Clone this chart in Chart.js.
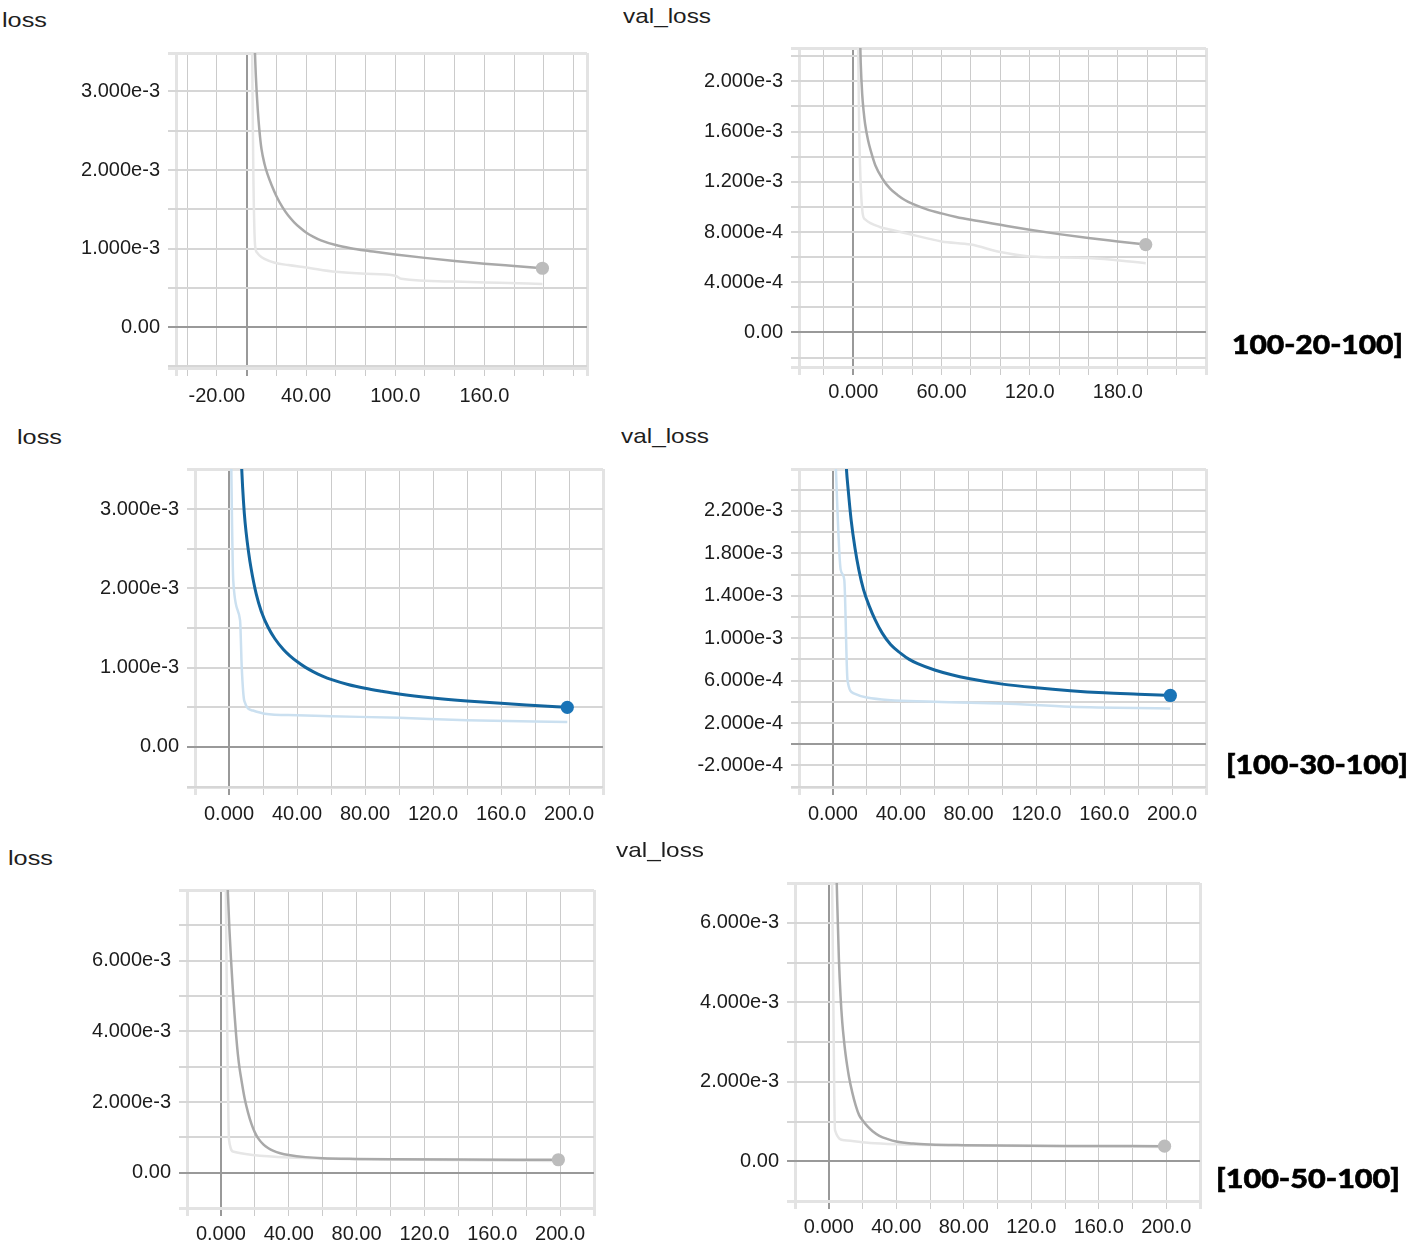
<!DOCTYPE html>
<html><head><meta charset="utf-8">
<script src="https://cdn.jsdelivr.net/npm/chart.js@4.4.1/dist/chart.umd.min.js"></script>
<style>
body{margin:0;background:#fff;}
#root{position:relative;width:1414px;height:1251px;overflow:hidden;background:#fff;}
canvas{position:absolute;}
.title{position:absolute;font-family:"Liberation Sans",Arial,sans-serif;font-size:21px;color:#1e1e1e;transform-origin:0 0;line-height:1;white-space:nowrap;}
.tag{position:absolute;font-family:Lato,"Open Sans",sans-serif;font-weight:900;font-size:27px;color:#000;transform-origin:0 0;line-height:1;white-space:nowrap;-webkit-text-stroke:0.6px #000;}
</style></head><body><div id="root"></div>
<script>
// ---------------- DATA ----------------
// Panel 1: loss [100-20-100]
const p1Epochs    = [4, 5, 6, 7, 8, 9, 10, 12, 14, 17, 20, 24, 28, 32, 36, 40, 45, 50, 60, 70, 80, 90, 100, 120, 140, 160, 180, 199];
const p1Loss      = [5.0e-3, 3.9e-3, 3.3e-3, 2.92e-3, 2.64e-3, 2.43e-3, 2.27e-3, 2.08e-3, 1.95e-3, 1.80e-3, 1.67e-3, 1.53e-3, 1.42e-3, 1.335e-3, 1.265e-3, 1.205e-3, 1.15e-3, 1.105e-3, 1.045e-3, 1.005e-3, 0.975e-3, 0.95e-3, 0.926e-3, 0.882e-3, 0.843e-3, 0.808e-3, 0.778e-3, 0.75e-3];
const p1RawEpochs = [3, 4.5, 5.7, 7, 8.8, 12, 19, 28, 40, 60, 80, 100, 104, 140, 170, 199];
const p1RawLoss   = [5.0e-3, 2.0e-3, 1.04e-3, 0.95e-3, 0.91e-3, 0.87e-3, 0.82e-3, 0.79e-3, 0.76e-3, 0.705e-3, 0.68e-3, 0.655e-3, 0.615e-3, 0.58e-3, 0.565e-3, 0.55e-3];
// Panel 2: val_loss [100-20-100]
const p2Epochs    = [3, 4, 5, 6, 7, 8, 10, 12, 15, 20, 25, 30, 35, 40, 50, 60, 70, 80, 100, 120, 140, 160, 180, 199];
const p2Loss      = [3.3e-3, 2.6e-3, 2.15e-3, 1.9e-3, 1.76e-3, 1.66e-3, 1.53e-3, 1.44e-3, 1.33e-3, 1.22e-3, 1.145e-3, 1.095e-3, 1.055e-3, 1.025e-3, 0.98e-3, 0.948e-3, 0.92e-3, 0.897e-3, 0.857e-3, 0.818e-3, 0.783e-3, 0.752e-3, 0.725e-3, 0.70e-3];
const p2RawEpochs = [2, 4, 6.3, 8, 11.6, 18, 25.6, 40, 60, 80, 100, 120, 160, 199];
const p2RawLoss   = [3.5e-3, 1.6e-3, 0.95e-3, 0.90e-3, 0.87e-3, 0.84e-3, 0.818e-3, 0.778e-3, 0.725e-3, 0.70e-3, 0.64e-3, 0.605e-3, 0.592e-3, 0.552e-3];
// Panel 3: loss [100-30-100]
const p3Epochs    = [5, 6, 7, 8, 9, 10, 11.5, 13, 16, 19, 23, 27, 32, 36, 40, 45, 50, 55, 60, 70, 80, 90, 100, 120, 140, 160, 180, 199];
const p3Loss      = [5.0e-3, 4.3e-3, 3.72e-3, 3.28e-3, 2.95e-3, 2.72e-3, 2.46e-3, 2.25e-3, 1.93e-3, 1.71e-3, 1.51e-3, 1.365e-3, 1.23e-3, 1.147e-3, 1.078e-3, 1.004e-3, 0.945e-3, 0.895e-3, 0.852e-3, 0.788e-3, 0.74e-3, 0.702e-3, 0.668e-3, 0.618e-3, 0.58e-3, 0.55e-3, 0.524e-3, 0.50e-3];
const p3RawEpochs = [0.5, 2.5, 6.5, 7.5, 9, 14, 21, 40, 60, 100, 140, 199];
const p3RawLoss   = [5.0e-3, 2.1e-3, 1.6e-3, 1.0e-3, 0.58e-3, 0.46e-3, 0.42e-3, 0.40e-3, 0.388e-3, 0.367e-3, 0.337e-3, 0.316e-3];
// Panel 4: val_loss [100-30-100]
const p4Epochs    = [6, 7, 8, 9, 10.7, 13, 15.3, 18, 21.5, 25, 29, 34, 40, 45, 50, 60, 70, 80, 100, 120, 140, 160, 180, 199];
const p4Loss      = [3.4e-3, 2.9e-3, 2.59e-3, 2.4e-3, 2.12e-3, 1.85e-3, 1.644e-3, 1.46e-3, 1.30e-3, 1.17e-3, 1.05e-3, 0.94e-3, 0.857e-3, 0.80e-3, 0.76e-3, 0.70e-3, 0.655e-3, 0.62e-3, 0.567e-3, 0.532e-3, 0.505e-3, 0.485e-3, 0.472e-3, 0.46e-3];
const p4RawEpochs = [1, 4.6, 6.7, 8.6, 12.3, 20, 60, 100, 140, 199];
const p4RawLoss   = [2.9e-3, 1.644e-3, 1.55e-3, 0.605e-3, 0.48e-3, 0.44e-3, 0.40e-3, 0.384e-3, 0.353e-3, 0.337e-3];
// Panel 5: loss [100-50-100]
const p5Epochs    = [3, 4, 5, 6, 7, 8, 9, 10, 11, 12, 14, 16, 18, 20, 22, 25, 28, 31, 35, 40, 50, 60, 80, 100, 140, 199];
const p5Loss      = [9.5e-3, 8.05e-3, 6.9e-3, 6.0e-3, 5.2e-3, 4.5e-3, 3.87e-3, 3.35e-3, 2.95e-3, 2.65e-3, 2.1e-3, 1.70e-3, 1.38e-3, 1.14e-3, 0.97e-3, 0.80e-3, 0.69e-3, 0.615e-3, 0.55e-3, 0.50e-3, 0.44e-3, 0.41e-3, 0.39e-3, 0.38e-3, 0.37e-3, 0.365e-3];
const p5RawEpochs = [2.5, 3.5, 4.8, 7.6, 19, 40, 100, 199];
const p5RawLoss   = [10.0e-3, 5.0e-3, 0.92e-3, 0.59e-3, 0.50e-3, 0.43e-3, 0.37e-3, 0.33e-3];
// Panel 6: val_loss [100-50-100]
const p6Epochs    = [3, 4, 5, 6, 7, 8, 9, 10, 11, 12, 14, 16, 18, 20, 23, 26, 30, 35, 40, 50, 60, 80, 100, 140, 199];
const p6Loss      = [10.3e-3, 8.3e-3, 6.55e-3, 5.1e-3, 4.15e-3, 3.5e-3, 3.05e-3, 2.68e-3, 2.38e-3, 2.12e-3, 1.72e-3, 1.40e-3, 1.16e-3, 1.03e-3, 0.875e-3, 0.755e-3, 0.64e-3, 0.555e-3, 0.495e-3, 0.445e-3, 0.423e-3, 0.405e-3, 0.395e-3, 0.385e-3, 0.38e-3];
const p6RawEpochs = [1.5, 2.5, 3.7, 9.2, 24.5, 40, 100, 199];
const p6RawLoss   = [9.0e-3, 5.0e-3, 0.78e-3, 0.53e-3, 0.46e-3, 0.43e-3, 0.39e-3, 0.36e-3];

// ---------------- TICKS ----------------
const xGridA      = [-40, -20, 0, 20, 40, 60, 80, 100, 120, 140, 160, 180, 200, 220];
const xLabelValsA = [-20, 40, 100, 160];
const xLabelsA    = ['-20.00', '40.00', '100.0', '160.0'];
const xGridB      = [-20, 0, 20, 40, 60, 80, 100, 120, 140, 160, 180, 200, 220, 240];
const xLabelValsB = [0, 60, 120, 180];
const xLabelsB    = ['0.000', '60.00', '120.0', '180.0'];
const xGridC      = [-20, 0, 20, 40, 60, 80, 100, 120, 140, 160, 180, 200, 220];
const xLabelValsC = [0, 40, 80, 120, 160, 200];
const xLabelsC    = ['0.000', '40.00', '80.00', '120.0', '160.0', '200.0'];

const yGrid1      = [-0.5e-3, 0, 0.5e-3, 1.0e-3, 1.5e-3, 2.0e-3, 2.5e-3, 3.0e-3];
const yLabelVals1 = [0, 1e-3, 2e-3, 3e-3];
const yLabels1    = ['0.00', '1.000e-3', '2.000e-3', '3.000e-3'];
const yGrid2      = [-2e-4, 0, 2e-4, 4e-4, 6e-4, 8e-4, 10e-4, 12e-4, 14e-4, 16e-4, 18e-4, 20e-4, 22e-4];
const yLabelVals2 = [0, 4e-4, 8e-4, 12e-4, 16e-4, 20e-4];
const yLabels2    = ['0.00', '4.000e-4', '8.000e-4', '1.200e-3', '1.600e-3', '2.000e-3'];
const yGrid3      = [-0.5e-3, 0, 0.5e-3, 1.0e-3, 1.5e-3, 2.0e-3, 2.5e-3, 3.0e-3, 3.5e-3];
const yLabelVals3 = [0, 1e-3, 2e-3, 3e-3];
const yLabels3    = ['0.00', '1.000e-3', '2.000e-3', '3.000e-3'];
const yGrid4      = [-4e-4, -2e-4, 0, 2e-4, 4e-4, 6e-4, 8e-4, 10e-4, 12e-4, 14e-4, 16e-4, 18e-4, 20e-4, 22e-4, 24e-4];
const yLabelVals4 = [-2e-4, 2e-4, 6e-4, 10e-4, 14e-4, 18e-4, 22e-4];
const yLabels4    = ['-2.000e-4', '2.000e-4', '6.000e-4', '1.000e-3', '1.400e-3', '1.800e-3', '2.200e-3'];
const yGrid5      = [-1e-3, 0, 1e-3, 2e-3, 3e-3, 4e-3, 5e-3, 6e-3, 7e-3];
const yLabelVals5 = [0, 2e-3, 4e-3, 6e-3];
const yLabels5    = ['0.00', '2.000e-3', '4.000e-3', '6.000e-3'];
const yGrid6      = [-1e-3, 0, 1e-3, 2e-3, 3e-3, 4e-3, 5e-3, 6e-3, 7e-3];
const yLabelVals6 = [0, 2e-3, 4e-3, 6e-3];
const yLabels6    = ['0.00', '2.000e-3', '4.000e-3', '6.000e-3'];

// ---------------- STYLE / LAYOUT ----------------
const GRAY = {main:'#a9a9a9', raw:'#e6e6e6', dot:'#bcbcbc', w:2.5};
const BLUE = {main:'#13659e', raw:'#cbe0f0', dot:'#1a74b7', w:3};

const panels = [
  {title:'loss', tx:2, ty:9, tw:45, L:176, T:53, R:587, B:368, xMin:-47.5, xMax:229, yMin:-0.52e-3, yMax:3.49e-3,
   ex:p1Epochs, ey:p1Loss, rx:p1RawEpochs, ry:p1RawLoss, xGrid:xGridA, xLV:xLabelValsA, xL:xLabelsA, yGrid:yGrid1, yLV:yLabelVals1, yL:yLabels1, col:GRAY, xPad:8},
  {title:'val_loss', tx:623, ty:5, tw:88, L:799, T:48, R:1206, B:367, xMin:-37, xMax:240, yMin:-0.275e-3, yMax:2.265e-3,
   ex:p2Epochs, ey:p2Loss, rx:p2RawEpochs, ry:p2RawLoss, xGrid:xGridB, xLV:xLabelValsB, xL:xLabelsB, yGrid:yGrid2, yLV:yLabelVals2, yL:yLabels2, col:GRAY, xPad:5},
  {title:'loss', tx:17, ty:426, tw:45, L:195, T:469, R:603, B:787, xMin:-20, xMax:220, yMin:-0.505e-3, yMax:3.506e-3,
   ex:p3Epochs, ey:p3Loss, rx:p3RawEpochs, ry:p3RawLoss, xGrid:xGridC, xLV:xLabelValsC, xL:xLabelsC, yGrid:yGrid3, yLV:yLabelVals3, yL:yLabels3, col:BLUE, xPad:7},
  {title:'val_loss', tx:621, ty:425, tw:88, L:799, T:469, R:1206, B:787, xMin:-20, xMax:220, yMin:-0.403e-3, yMax:2.595e-3,
   ex:p4Epochs, ey:p4Loss, rx:p4RawEpochs, ry:p4RawLoss, xGrid:xGridC, xLV:xLabelValsC, xL:xLabelsC, yGrid:yGrid4, yLV:yLabelVals4, yL:yLabels4, col:BLUE, xPad:7},
  {title:'loss', tx:8, ty:847, tw:45, L:187, T:890, R:594, B:1208, xMin:-20, xMax:220, yMin:-1e-3, yMax:8e-3,
   ex:p5Epochs, ey:p5Loss, rx:p5RawEpochs, ry:p5RawLoss, xGrid:xGridC, xLV:xLabelValsC, xL:xLabelsC, yGrid:yGrid5, yLV:yLabelVals5, yL:yLabels5, col:GRAY, xPad:6},
  {title:'val_loss', tx:616, ty:839, tw:88, L:795, T:883, R:1200, B:1201, xMin:-20, xMax:220, yMin:-1e-3, yMax:7e-3,
   ex:p6Epochs, ey:p6Loss, rx:p6RawEpochs, ry:p6RawLoss, xGrid:xGridC, xLV:xLabelValsC, xL:xLabelsC, yGrid:yGrid6, yLV:yLabelVals6, yL:yLabels6, col:GRAY, xPad:6}
];
const tags = [
  {text:'100-20-100]', x:1232, y:330, w:171},
  {text:'[100-30-100]', x:1226, y:750, w:182},
  {text:'[100-50-100]', x:1216, y:1164, w:184}
];

const root = document.getElementById('root');
const FONT = {family:'"Liberation Sans", Arial, sans-serif', size:20};

function addText(txt, cls, left, top, targetW) {
  const d = document.createElement('div');
  d.className = cls; d.textContent = txt;
  d.style.left = left + 'px'; d.style.top = top + 'px';
  root.appendChild(d);
  const w = d.getBoundingClientRect().width;
  if (w > 0) d.style.transform = 'scaleX(' + (targetW / w) + ')';
}

function near(a, b, tol) { return Math.abs(a - b) < tol; }
function labelFor(v, vals, labels, tol) {
  for (let i = 0; i < vals.length; i++) if (near(v, vals[i], tol)) return labels[i];
  return '';
}
function withEdges(grid, mn, mx, tol) {
  const out = grid.filter(v => v >= mn - tol && v <= mx + tol);
  if (!out.some(v => near(v, mn, tol))) out.unshift(mn);
  if (!out.some(v => near(v, mx, tol))) out.push(mx);
  return out;
}
function gridStyle(mn, mx, tol, base, baseW) {
  return {
    color: ctx => { const v = ctx.tick ? ctx.tick.value : NaN;
      if (near(v, 0, tol)) return '#999999';
      if (near(v, mn, tol) || near(v, mx, tol)) return '#e3e3e3';
      return base; },
    lineWidth: ctx => { const v = ctx.tick ? ctx.tick.value : NaN;
      if (near(v, 0, tol)) return 2;
      if (near(v, mn, tol) || near(v, mx, tol)) return 3;
      return baseW; },
    tickLength: 8, drawTicks: true, drawOnChartArea: true
  };
}

function makeChart(p) {
  const YW = 140, XH = 52, PT = 20, PR = 30;
  const w = (p.R - p.L) + YW + PR, h = (p.B - p.T) + PT + XH;
  const c = document.createElement('canvas');
  c.width = w; c.height = h;
  c.style.left = (p.L - YW) + 'px'; c.style.top = (p.T - PT) + 'px';
  c.style.width = w + 'px'; c.style.height = h + 'px';
  root.appendChild(c);
  const tx = 1e-6, ty = 1e-9;
  const n = p.ex.length;
  new Chart(c, {
    type: 'line',
    data: {
      datasets: [
        { data: p.ex.map((x, i) => ({x: x, y: p.ey[i]})), borderColor: p.col.main, borderWidth: p.col.w,
          pointRadius: ctx => ctx.dataIndex === n - 1 ? 6.6 : 0, pointBackgroundColor: p.col.dot, pointBorderWidth: 0,
          cubicInterpolationMode: 'monotone', fill: false },
        { data: p.rx.map((x, i) => ({x: x, y: p.ry[i]})), borderColor: p.col.raw, borderWidth: 2.5,
          pointRadius: 0, cubicInterpolationMode: 'monotone', fill: false }
      ]
    },
    options: {
      responsive: false, animation: false, events: [], devicePixelRatio: 1,
      layout: { padding: { top: PT, right: PR, left: 0, bottom: 0 } },
      plugins: { legend: { display: false }, tooltip: { enabled: false }, title: { display: false } },
      scales: {
        x: {
          type: 'linear', min: p.xMin, max: p.xMax,
          afterBuildTicks: s => { s.ticks = withEdges(p.xGrid, p.xMin, p.xMax, tx).map(v => ({value: v})); },
          afterFit: s => { s.height = XH; },
          ticks: { autoSkip: false, maxRotation: 0, minRotation: 0, padding: p.xPad, color: '#1c1c1c', font: FONT,
                   callback: v => labelFor(v, p.xLV, p.xL, tx) },
          grid: gridStyle(p.xMin, p.xMax, tx, '#cbcbcb', 1),
          border: { display: false }
        },
        y: {
          type: 'linear', min: p.yMin, max: p.yMax,
          afterBuildTicks: s => { s.ticks = withEdges(p.yGrid, p.yMin, p.yMax, ty).map(v => ({value: v})); },
          afterFit: s => { s.width = YW; },
          ticks: { autoSkip: false, padding: 8, color: '#1c1c1c', font: FONT,
                   callback: v => labelFor(v, p.yLV, p.yL, ty) },
          grid: gridStyle(p.yMin, p.yMax, ty, '#d6d6d6', 2),
          border: { display: false }
        }
      }
    }
  });
  addText(p.title, 'title', p.tx, p.ty, p.tw);
}

panels.forEach(makeChart);
tags.forEach(t => addText(t.text, 'tag', t.x, t.y, t.w));
</script>
</body></html>
